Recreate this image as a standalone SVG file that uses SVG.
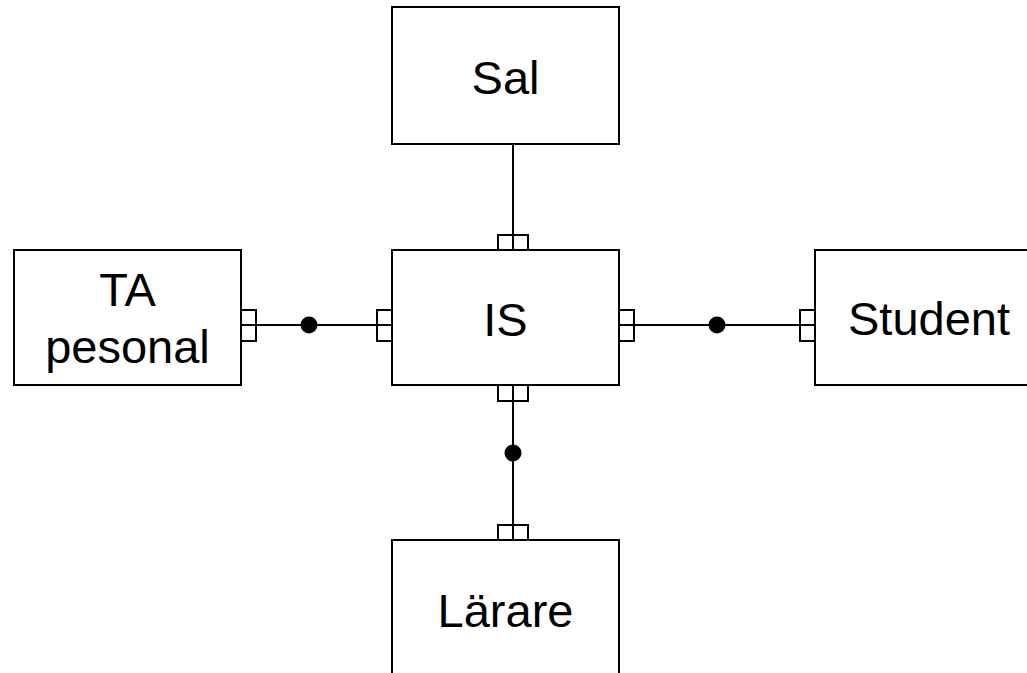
<svg xmlns="http://www.w3.org/2000/svg" width="1027" height="673" viewBox="0 0 1027 673">
<style>
.box{fill:#fff;stroke:#000;stroke-width:2}
.lbl{font-family:"Liberation Sans",Arial,sans-serif;font-size:47px;fill:#000;text-anchor:middle}
.ln{stroke:#000;stroke-width:2;fill:none}
.port{fill:#fff;stroke:#000;stroke-width:2}
</style>
<rect width="1027" height="673" fill="#fff"/>
<g id="connectors">
<line class="ln" x1="513" y1="144" x2="513" y2="250"/>
<line class="ln" x1="241" y1="325" x2="392" y2="325"/>
<line class="ln" x1="619" y1="325" x2="815" y2="325"/>
<line class="ln" x1="513" y1="385" x2="513" y2="540"/>
<circle cx="309" cy="325" r="8.5"/>
<circle cx="717" cy="325" r="8.5"/>
<circle cx="513" cy="453" r="8.5"/>
<g class="port">
<rect x="498" y="235" width="30" height="15"/>
<rect x="498" y="385" width="30" height="16"/>
<rect x="377" y="310" width="15" height="31"/>
<rect x="619" y="310" width="15" height="31"/>
<rect x="241" y="310" width="15" height="31"/>
<rect x="800" y="310" width="15" height="31"/>
<rect x="498" y="525" width="30" height="15"/>
</g>
<line class="ln" x1="513" y1="235" x2="513" y2="250"/>
<line class="ln" x1="513" y1="385" x2="513" y2="401"/>
<line class="ln" x1="377" y1="325" x2="392" y2="325"/>
<line class="ln" x1="619" y1="325" x2="634" y2="325"/>
<line class="ln" x1="241" y1="325" x2="256" y2="325"/>
<line class="ln" x1="800" y1="325" x2="815" y2="325"/>
<line class="ln" x1="513" y1="525" x2="513" y2="540"/>
</g>
<g id="sal"><rect class="box" x="392" y="7" width="227" height="137"/><text class="lbl" x="505.5" y="94">Sal</text></g>
<g id="is"><rect class="box" x="392" y="250" width="227" height="135"/><text class="lbl" x="505.5" y="336">IS</text></g>
<g id="ta"><rect class="box" x="14" y="250" width="227" height="135"/><text class="lbl" x="127.5" y="306">TA</text><text class="lbl" x="127.5" y="363">pesonal</text></g>
<g id="student"><rect class="box" x="815" y="250" width="227" height="135"/><text class="lbl" x="929" y="335">Student</text></g>
<g id="larare"><rect class="box" x="392" y="540" width="227" height="140"/><text class="lbl" x="505.5" y="627">Lärare</text></g>
</svg>
